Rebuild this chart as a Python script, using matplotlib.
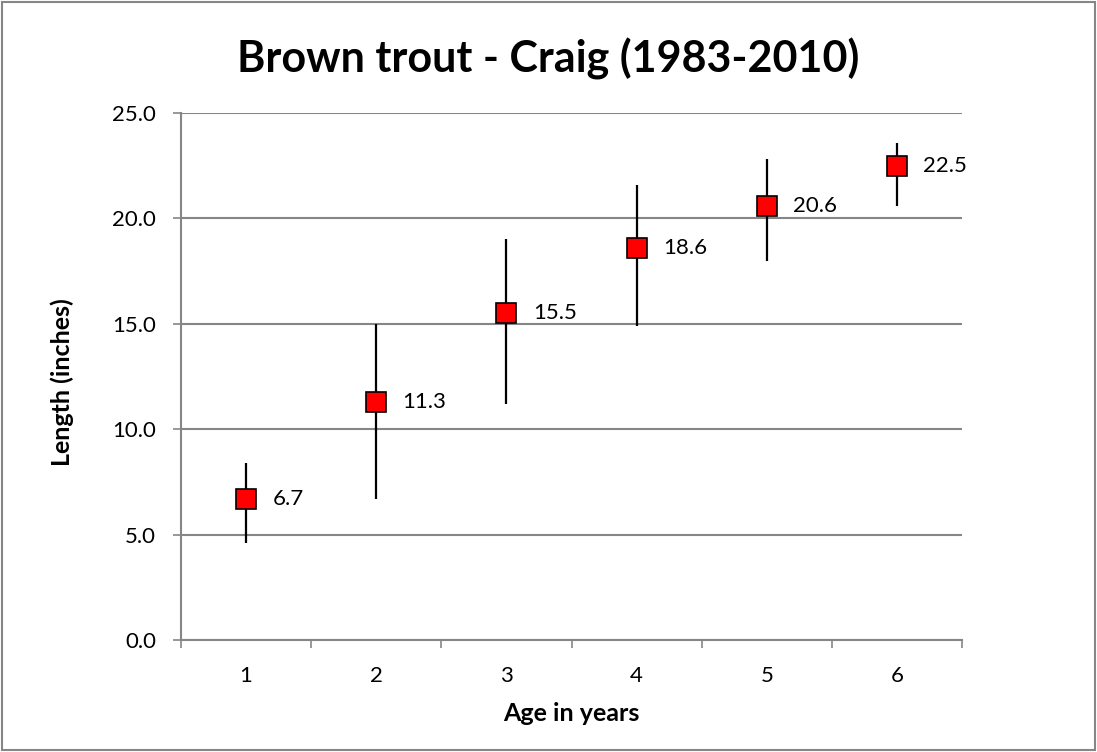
import matplotlib.pyplot as plt
from matplotlib.patches import Rectangle
import numpy as np

# Mean length at age, with the low/high range drawn as whiskers
ages = [1, 2, 3, 4, 5, 6]
mean_length = [6.7, 11.3, 15.5, 18.6, 20.6, 22.5]
low_length = [4.6, 6.7, 11.2, 14.9, 18.0, 20.6]
high_length = [8.4, 15.0, 19.0, 21.6, 22.8, 23.6]
y_ticks = [0, 5, 10, 15, 20, 25]

plt.rcParams['font.family'] = ['Lato', 'DejaVu Sans']

fig = plt.figure(figsize=(10.97, 7.52), dpi=100)
ax = fig.add_axes([181 / 1097, 1 - 640 / 752, (962 - 181) / 1097, (640 - 113) / 752])

# grey border round the whole chart
fig.patches.append(Rectangle((0.002, 0.003), 0.996, 0.994, transform=fig.transFigure,
                             fill=False, edgecolor='#868686', linewidth=1.5))

mean = np.array(mean_length)
yerr = [mean - np.array(low_length), np.array(high_length) - mean]
ax.errorbar(ages, mean_length, yerr=yerr, fmt='s', color='black', ecolor='black',
            elinewidth=1.6, capsize=0, markersize=14.5, markerfacecolor='#ff0000',
            markeredgecolor='black', markeredgewidth=1.2, zorder=3)

for x, y in zip(ages, mean_length):
    ax.annotate(f"{y:.1f}", (x, y), xytext=(19, 0), textcoords='offset points',
                ha='left', va='center', fontsize=16)

ax.set_xlim(0.5, 6.5)
ax.set_ylim(0, 25)
ax.set_xticks(ages)
ax.set_xticks(np.arange(0.5, 7, 1), minor=True)
ax.set_yticks(y_ticks)
ax.set_yticklabels([f"{v:.1f}" for v in y_ticks])
ax.tick_params(axis='x', which='major', length=0, labelsize=16, pad=19)
ax.tick_params(axis='x', which='minor', length=6, width=1.2, color='#868686', direction='out')
ax.tick_params(axis='y', length=6, width=1.2, color='#868686', labelsize=16, pad=12)

ax.grid(axis='y', color='#868686', linewidth=1.5)
ax.set_axisbelow(True)
for side in ['top', 'right']:
    ax.spines[side].set_visible(False)
for side in ['left', 'bottom']:
    ax.spines[side].set_color('#868686')
    ax.spines[side].set_linewidth(1.5)

# title is centred on the whole chart, not on the plot area
ax.set_title("Brown trout - Craig (1983-2010)", fontsize=31, fontweight='bold',
             pad=29.5, x=0.4706)
ax.set_xlabel("Age in years", fontsize=18, fontweight='bold')
ax.set_ylabel("Length (inches)", fontsize=18, fontweight='bold')
ax.xaxis.set_label_coords(0.5, -0.117)
ax.yaxis.set_label_coords(-0.137, 0.49)

fig.savefig("out.png", dpi=100)
